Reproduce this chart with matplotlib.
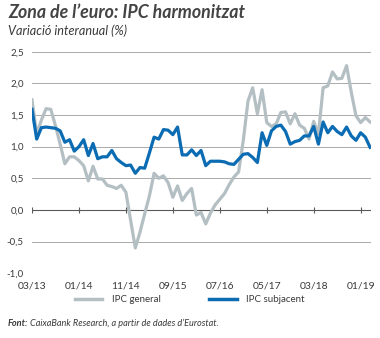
import numpy as np
import matplotlib
matplotlib.use("Agg")
import matplotlib.pyplot as plt
from matplotlib.lines import Line2D

plt.rcParams['font.family'] = ['Lato', 'DejaVu Sans']

# monthly, 03/2013 .. 03/2019
general = [1.74, 1.20, 1.42, 1.60, 1.59, 1.33, 1.04, 0.73, 0.84, 0.84,
           0.78, 0.70, 0.46, 0.69, 0.49, 0.49, 0.39, 0.37, 0.34, 0.39,
           0.28, -0.16, -0.60, -0.35, -0.06, 0.22, 0.58, 0.50, 0.54, 0.43,
           0.20, 0.38, 0.15, 0.26, 0.34, -0.08, -0.04, -0.22, -0.05, 0.08,
           0.17, 0.26, 0.40, 0.52, 0.60, 1.10, 1.72, 1.93, 1.52, 1.90,
           1.38, 1.32, 1.36, 1.54, 1.55, 1.36, 1.52, 1.34, 1.29, 1.12,
           1.40, 1.20, 1.93, 1.96, 2.18, 2.07, 2.08, 2.28, 1.86, 1.49,
           1.38, 1.46, 1.39]
subjacent = [1.59, 1.12, 1.30, 1.31, 1.30, 1.29, 1.25, 1.07, 1.11, 0.93,
             1.00, 1.11, 0.86, 1.05, 0.81, 0.84, 0.84, 0.94, 0.81, 0.75,
             0.70, 0.71, 0.58, 0.67, 0.66, 0.90, 1.15, 1.12, 1.27, 1.26,
             1.19, 1.31, 0.87, 0.87, 0.95, 0.86, 0.94, 0.70, 0.77, 0.77,
             0.77, 0.76, 0.73, 0.72, 0.80, 0.88, 0.89, 0.83, 0.75, 1.22,
             1.02, 1.25, 1.32, 1.34, 1.24, 1.04, 1.08, 1.10, 1.17, 1.17,
             1.32, 1.04, 1.39, 1.22, 1.32, 1.24, 1.19, 1.31, 1.17, 1.10,
             1.22, 1.15, 0.99]
tick_labels = ['03/13', '01/14', '11/14', '09/15', '07/16', '05/17', '03/18', '01/19']
y_ticks = [-1.0, -0.5, 0.0, 0.5, 1.0, 1.5, 2.0, 2.5]

GREY = '#b4bfc4'
BLUE = '#0b6cb3'
TXT = '#3a3a3a'

fig = plt.figure(figsize=(3.8, 3.38), dpi=100)
ax = fig.add_axes([32/380, 1 - 273.3/338, 339/380, (273.3 - 51.7)/338])

x = np.arange(len(general))
tick_pos = np.arange(0, 71, 10)

ax.plot(x, general, color=GREY, lw=2.3, solid_joinstyle='round', zorder=3)
ax.plot(x, subjacent, color=BLUE, lw=2.3, solid_joinstyle='round', zorder=4)

ax.set_xlim(0, 72.2)
ax.set_ylim(-1.0, 2.5)
ax.set_yticks(y_ticks)
ax.set_yticklabels([f'{v:.1f}'.replace('.', ',') for v in y_ticks])
ax.set_xticks(tick_pos)
ax.set_xticklabels(tick_labels)
ax.yaxis.grid(True, color='#9c9c9c', lw=0.6)
ax.set_axisbelow(True)
for s in ax.spines.values():
    s.set_visible(False)
ax.tick_params(axis='y', length=0, pad=6, labelsize=7, labelcolor=TXT)
ax.tick_params(axis='x', length=0, pad=6, labelsize=7.5, labelcolor=TXT)

# zero line with month ticks on it
ax.axhline(0, color='#5a5a5a', lw=0.8, zorder=2)
ax.plot(tick_pos, np.zeros(len(tick_pos)), ls='none', marker='|',
        ms=4, mew=0.8, color='#5a5a5a', zorder=2)

handles = [Line2D([], [], color=GREY, lw=2.5), Line2D([], [], color=BLUE, lw=2.5)]
fig.legend(handles, ['IPC general', 'IPC subjacent'], loc='center',
           bbox_to_anchor=(0.5, 1 - 300/338), ncol=2, frameon=False,
           fontsize=7, handlelength=2.8, handletextpad=1.0, columnspacing=5.0,
           labelcolor=TXT)

fig.text(8/380, 1 - 13/338, 'Zona de l’euro: IPC harmonitzat', fontsize=12.8,
         weight='bold', style='italic', color='#444444', va='center')
fig.text(8/380, 1 - 31/338, 'Variació interanual (%)', fontsize=9.1,
         style='italic', color=TXT, va='center')

src = fig.text(8/380, 1 - 323/338, 'Font:', fontsize=6.6, weight='bold',
               style='italic', color=TXT, va='center')
fig.canvas.draw()
bb = src.get_window_extent()
fig.text(bb.x1/380 + 1.5/380, 1 - 323/338,
         'CaixaBank Research, a partir de dades d’Eurostat.', fontsize=6.6,
         style='italic', color=TXT, va='center')

fig.savefig('out.png', dpi=100)
